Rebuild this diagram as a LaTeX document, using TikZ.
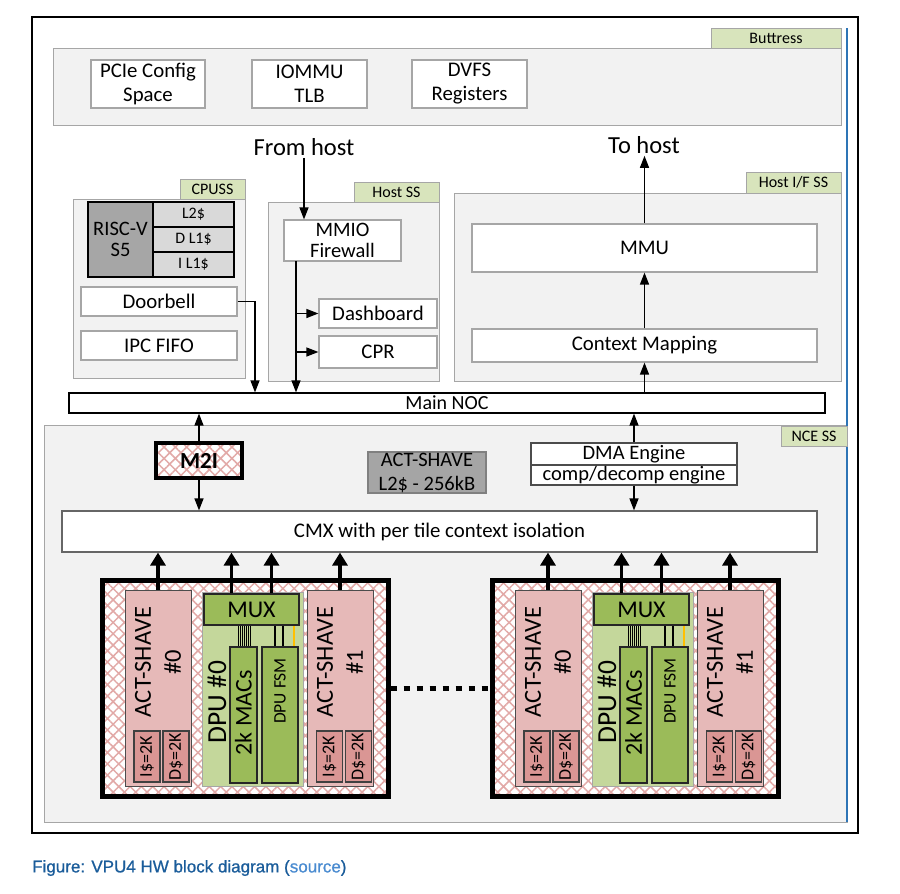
\documentclass[tikz,border=0pt]{standalone}
\usepackage{fontspec}
\setmainfont{Carlito}
\newfontfamily\capfont[FakeBold=0.9]{Liberation Sans}
\usepackage{xcolor}
\usetikzlibrary{arrows.meta,patterns.meta,calc}
\definecolor{panelgray}{HTML}{F2F2F2}
\definecolor{edgegray}{HTML}{A6A6A6}
\definecolor{tabgreen}{HTML}{D8E4BC}
\definecolor{riscgray}{HTML}{A6A6A6}
\definecolor{cachegray}{HTML}{D9D9D9}
\definecolor{l2gray}{HTML}{A5A5A5}
\definecolor{shavepink}{HTML}{E6B9B8}
\definecolor{cachepink}{HTML}{DA9694}
\definecolor{hatchpink}{HTML}{E2A9A7}
\definecolor{dpugreen}{HTML}{C4D79B}
\definecolor{macgreen}{HTML}{9BBB59}
\definecolor{busorange}{HTML}{FFC000}
\definecolor{linkblue}{HTML}{2E75B6}
\definecolor{capblue}{HTML}{1A5C9A}
\definecolor{srcblue}{HTML}{4A8BD0}
\newcommand{\fsz}[2]{\fontsize{#1}{#2}\selectfont}
\begin{document}
\begin{tikzpicture}[x=1pt,y=-1pt,
panel/.style={draw=edgegray,fill=panelgray,line width=1pt},
tab/.style={draw=edgegray,fill=tabgreen,line width=1pt,inner sep=0pt,font=\fsz{16}{18}},
wbox/.style={draw=edgegray,fill=white,line width=1.2pt,inner sep=0pt,align=center,font=\fsz{20.8}{24}},
cache/.style={draw=black,fill=cachegray,line width=2pt,inner sep=0pt,font=\fsz{16}{18}},
hatched/.style={preaction={fill=white},pattern={Hatch[angle=45,distance=8pt,line width=1.5pt]},pattern color=hatchpink},
shave/.style={draw=black!70,fill=shavepink,line width=1pt,inner sep=0pt},
icache/.style={draw=black!75,fill=cachepink,line width=1.2pt,inner sep=0pt,rotate=90,font=\fsz{18}{18},minimum width=51pt,minimum height=26pt},
dpubox/.style={draw=edgegray,fill=dpugreen,line width=1pt,inner sep=0pt},
mac/.style={draw=black!85,fill=macgreen,line width=1.8pt,inner sep=0pt},
txt/.style={inner sep=2pt},
arr/.style={line width=1.3pt,-{Triangle[length=12pt,width=9pt]}},
fat/.style={line width=3.5pt,-{Triangle[length=13pt,width=15pt]}}]
\useasboundingbox (0,0) rectangle (900,894);
\draw[line width=1.2pt] (32,17) rectangle (858,833);
\draw[panel] (53,48) rectangle (841,125);
\draw[panel] (73,199) rectangle (245,378);
\draw[panel] (268,202) rectangle (439,381);
\draw[panel] (454,193) rectangle (841,381);
\draw[panel] (44,425) rectangle (847,822);
\draw[linkblue,line width=1.2pt] (847,28) -- (847,822);
\node[tab,minimum width=130pt,minimum height=20pt] (buttress) at (776,38) {Buttress};
\node[tab,minimum width=65pt,minimum height=20pt] (cpuss) at (212.5,189) {CPUSS};
\node[tab,minimum width=85pt,minimum height=20pt] (hostss) at (396.5,192) {Host SS};
\node[tab,minimum width=95pt,minimum height=21pt] (hostif) at (793.5,182.5) {Host I/F SS};
\node[tab,minimum width=66pt,minimum height=20pt] (ncess) at (814,436) {NCE SS};
\node[wbox,minimum width=114pt,minimum height=48pt] (pcie) at (148,84) {PCIe Config\\Space};
\node[wbox,minimum width=115pt,minimum height=48pt] (iommu) at (309.5,84) {IOMMU\\TLB};
\node[wbox,minimum width=115pt,minimum height=48pt] (dvfs) at (469.5,84) {DVFS\\Registers};
\node[txt,font=\fsz{24.5}{26}] (fromhost) at (304,147) {From host};
\node[txt,font=\fsz{24.5}{26}] (tohost) at (644,145) {To host};
\node[draw=black,fill=riscgray,line width=2pt,inner sep=0pt,align=center,font=\fsz{20.5}{21},minimum width=65pt,minimum height=75pt] (risc) at (120.5,239.5) {RISC-V\\S5};
\foreach \nm/\y/\lab in {l2/214.5/L2\$,dl1/239.5/D L1\$,il1/264.5/I L1\$}
  \node[cache,minimum width=81pt,minimum height=25pt] (\nm) at (193.5,\y) {\lab};
\node[wbox,minimum width=156pt,minimum height=29pt] (door) at (159,301.5) {Doorbell};
\node[wbox,minimum width=156pt,minimum height=29pt] (ipc) at (159,345.5) {IPC FIFO};
\node[wbox,minimum width=117pt,minimum height=41pt,font=\fsz{20.5}{21}] (mmio) at (342.5,240.5) {MMIO\\Firewall};
\node[wbox,minimum width=118pt,minimum height=29pt] (dash) at (378,313.5) {Dashboard};
\node[wbox,minimum width=118pt,minimum height=32pt] (cpr) at (378,352) {CPR};
\node[wbox,minimum width=345pt,minimum height=48pt] (mmu) at (644.5,248) {MMU};
\node[wbox,minimum width=345pt,minimum height=33pt] (ctx) at (644.5,345.5) {Context Mapping};
\node[wbox,draw=black,minimum width=756pt,minimum height=20pt,font=\fsz{20}{22}] (noc) at (447,403) {Main NOC};
\node[hatched,draw=black,line width=3.5pt,inner sep=0pt,font=\bfseries\fsz{23}{26},minimum width=86pt,minimum height=35pt] (m2i) at (199,460.5) {M2I};
\node[draw=black!50,fill=l2gray,line width=1.2pt,inner sep=0pt,align=center,font=\fsz{20.5}{24},minimum width=118pt,minimum height=41pt] (actl2) at (427,472.5) {ACT-SHAVE\\L2\$ - 256kB};
\node[wbox,draw=black!70,minimum width=206pt,minimum height=22pt,font=\fsz{20.5}{22}] (dma) at (634,454) {DMA Engine};
\node[wbox,draw=black!70,minimum width=206pt,minimum height=20pt,font=\fsz{20.5}{22}] (comp) at (634,475) {comp/decomp engine};
\node[wbox,draw=black!60,minimum width=755pt,minimum height=41pt] (cmx) at (439.5,531.5) {CMX with per tile context isolation};
\draw[arr] (fromhost.south) -- (fromhost.south |- mmio.north);
\draw[arr] (mmu.north) -- (mmu.north |- tohost.south);
\draw[arr] (ctx.north) -- (mmu.south);
\draw[arr] (ctx.south |- noc.north) -- (ctx.south);
\coordinate (dbdrop) at (255,301.5);
\draw[arr] (door.east) -- (dbdrop) -- (dbdrop |- noc.north);
\coordinate (hbus) at (296,261);
\draw[arr] (hbus) -- (hbus |- noc.north);
\draw[arr] (hbus |- dash.west) -- (dash.west);
\draw[arr] (hbus |- cpr.west) -- (cpr.west);
\draw[arr] (m2i.north) -- (m2i.north |- noc.south);
\draw[arr] (m2i.south) -- (m2i.south |- cmx.north);
\draw[arr] (dma.north) -- (dma.north |- noc.south);
\draw[arr] (comp.south) -- (comp.south |- cmx.north);
\foreach \dx/\tl in {0/a,390/b}{
\begin{scope}[shift={(\dx,0)}]
\node[hatched,draw=black,line width=5pt,inner sep=0pt,minimum width=286pt,minimum height=216pt] (tile\tl) at (245,688) {};
\node[shave,minimum width=66pt,minimum height=196pt] (asz\tl) at (158,688) {};
\node[shave,minimum width=66pt,minimum height=196pt] (aso\tl) at (340,688) {};
\node[font=\fsz{24.5}{30},align=center,rotate=90] at (158,662) {ACT-SHAVE\\\#0};
\node[font=\fsz{24.5}{30},align=center,rotate=90] at (340,662) {ACT-SHAVE\\\#1};
\node[icache] at (147,756.5) {I\$=2K};
\node[icache] at (176,756.5) {D\$=2K};
\node[icache] at (329.5,756.5) {I\$=2K};
\node[icache] at (358.5,756.5) {D\$=2K};
\node[dpubox,minimum width=101pt,minimum height=194pt] (dpu\tl) at (252.5,689) {};
\node[font=\fsz{27.5}{30},rotate=90] at (217,702) {DPU \#0};
\node[mac,minimum width=95pt,minimum height=31pt,font=\fsz{24}{26}] (mux\tl) at (251.5,609.5) {MUX};
\node[mac,minimum width=27pt,minimum height=136pt] (macs\tl) at (243.5,715) {};
\node[font=\fsz{24}{26},rotate=90] at (243.5,713) {2k MACs};
\node[mac,minimum width=36pt,minimum height=136pt] (fsm\tl) at (280,715) {};
\node[font=\fsz{17.5}{18},rotate=90] at (280,691) {DPU FSM};
\foreach \w in {-5,-3,...,7} \draw[line width=0.8pt] ([xshift=\w pt]macs\tl.north) -- ([xshift=\w pt]macs\tl.north |- mux\tl.south);
\foreach \w in {-5,3} \draw[line width=1.2pt] ([xshift=\w pt]fsm\tl.north) -- ([xshift=\w pt]fsm\tl.north |- mux\tl.south);
\draw[busorange,line width=1.2pt] ([xshift=14pt]fsm\tl.north) -- ([xshift=14pt]fsm\tl.north |- mux\tl.south);
\draw[fat] (asz\tl.north) -- (asz\tl.north |- cmx.south);
\draw[fat] ([xshift=-20pt]mux\tl.north) -- ([xshift=-20pt]mux\tl.north |- cmx.south);
\draw[fat] ([xshift=20pt]mux\tl.north) -- ([xshift=20pt]mux\tl.north |- cmx.south);
\draw[fat] (aso\tl.north) -- (aso\tl.north |- cmx.south);
\end{scope}}
\draw[line width=5pt,dash pattern=on 6pt off 7pt] (tilea.east) -- (tileb.west);
\node[anchor=west,inner sep=0pt,font=\capfont\fsz{17}{20},text=capblue] (cap) at (32,868) {Figure: VPU4 HW block diagram (\textcolor{srcblue}{source})};
\end{tikzpicture}
\end{document}
